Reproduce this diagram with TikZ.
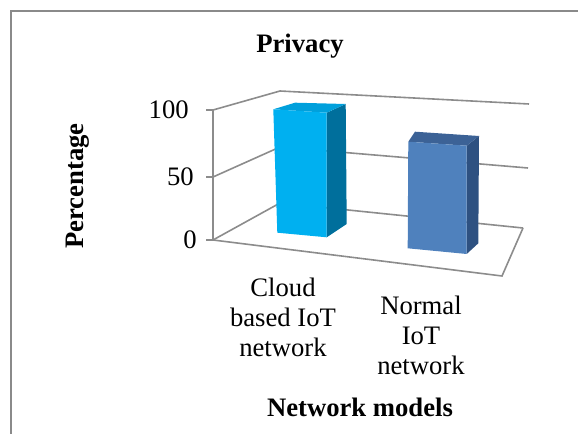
\documentclass[tikz,border=0pt]{standalone}
\usepackage{fontspec}
\setmainfont{Liberation Serif}
\definecolor{gridgray}{HTML}{8C8C8C}
\definecolor{framegray}{HTML}{8A8A8A}
\definecolor{cyanfront}{HTML}{00B0F0}
\definecolor{cyantop}{HTML}{00A0DC}
\definecolor{cyanside}{HTML}{006F9C}
\definecolor{bluefront}{HTML}{4F81BD}
\definecolor{bluetop}{HTML}{3C6296}
\definecolor{blueside}{HTML}{2E5181}
\begin{document}
\begin{tikzpicture}[x=0.75pt,y=-0.75pt,
  gridline/.style={gridgray,line width=1.2pt},
  framel/.style={framegray,line width=1.3pt},
  lbl/.style={font=\fontsize{20}{22.5}\selectfont,inner sep=0pt},
  blbl/.style={font=\fontsize{20}{22.5}\selectfont\bfseries,inner sep=0pt},
  ticklbl/.style={lbl,anchor=east},
  catlbl/.style={lbl,align=center}]
\useasboundingbox (0,0) rectangle (578,434);
% outer frame
\draw[framel] (11,434) -- (11,11) -- (578,11);

% side wall and back wall lines (0, 50, 100)
\draw[gridline] (213,110) -- (280,91) -- (529,104);
\draw[gridline] (213,177) -- (280,147) -- (528,168);
\draw[gridline] (213,240) -- (280,203) -- (523,228);
% value axis with ticks
\draw[gridline] (213,110) -- (213,240);
\draw[gridline] (206,110) -- (213,110);
\draw[gridline] (206,177) -- (213,177);
\draw[gridline] (206,240) -- (213,240);
% floor
\draw[gridline] (213,240) -- (502,276) -- (523,228);

% bar 1: cloud based IoT network
\fill[cyanside] (326.7,112.7) -- (345.7,104) -- (346.7,224) -- (326.7,237.3) -- cycle;
\fill[cyantop] (273.3,109.3) -- (295,102.7) -- (345.7,104) -- (326.7,112.7) -- cycle;
\fill[cyanfront] (273.3,109.3) -- (326.7,112.7) -- (326.7,237.3) -- (277.3,232.7) -- cycle;

% bar 2: normal IoT network
\fill[blueside] (466.7,145.7) -- (479,136) -- (478.3,243.3) -- (466.7,254) -- cycle;
\fill[bluetop] (408.3,141.7) -- (415,131.7) -- (479,136) -- (466.7,145.7) -- cycle;
\fill[bluefront] (408.3,141.7) -- (466.7,145.7) -- (466.7,254) -- (407.7,248.3) -- cycle;

% texts
\node[blbl] (title) at (300,46) {Privacy};
\node[blbl,rotate=90] (ylab) at (78,186) {Percentage};
\node[ticklbl] (t100) at (189,110) {100};
\node[ticklbl] (t50) at (194,177) {50};
\node[ticklbl] (t0) at (197,240) {0};
\node[catlbl] (c1) at (283,317) {Cloud\\based IoT\\network};
\node[catlbl] (c2) at (421,335) {Normal\\IoT\\network};
\node[blbl] (xlab) at (360,407) {Network models};
\end{tikzpicture}
\end{document}
